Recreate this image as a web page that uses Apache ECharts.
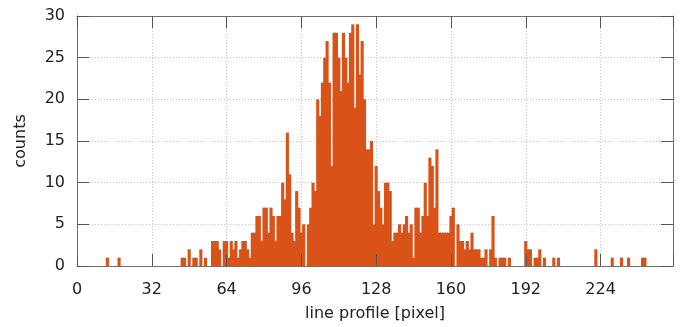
<!DOCTYPE html>
<html>
<head>
<meta charset="utf-8">
<script src="https://cdn.jsdelivr.net/npm/echarts@6/dist/echarts.min.js"></script>
<style>
  html, body { margin: 0; padding: 0; background: #fff; }
  #chart { width: 682px; height: 327px; }
</style>
</head>
<body>
<div id="chart"></div>
<script>
// histogram of the line profile, one count per pixel bin (0..255)
const counts = [
  0, 0, 0, 0, 0, 0, 0, 0, 0, 0, 0, 0, 0, 1, 0, 0,
  0, 0, 1, 0, 0, 0, 0, 0, 0, 0, 0, 0, 0, 0, 0, 0,
  0, 0, 0, 0, 0, 0, 0, 0, 0, 0, 0, 0, 0, 1, 1, 0,
  2, 0, 1, 1, 0, 2, 0, 1, 0, 0, 3, 3, 3, 2, 0, 3,
  3, 1, 3, 2, 3, 1, 2, 3, 3, 2, 1, 4, 4, 6, 6, 3,
  7, 7, 4, 7, 6, 3, 6, 6, 10, 8, 16, 11, 4, 3, 9, 7,
  4, 5, 0, 5, 7, 10, 9, 20, 18, 22, 25, 27, 22, 12, 28, 28,
  25, 21, 28, 25, 22, 28, 29, 19, 29, 23, 27, 20, 14, 14, 15, 5,
  12, 9, 7, 5, 10, 10, 9, 3, 4, 4, 5, 4, 5, 6, 4, 5,
  1, 7, 7, 4, 6, 10, 6, 13, 12, 7, 14, 4, 4, 4, 4, 4,
  6, 7, 0, 5, 3, 3, 2, 3, 2, 4, 2, 2, 2, 1, 1, 2,
  0, 2, 6, 1, 0, 1, 1, 1, 0, 1, 0, 0, 0, 0, 0, 0,
  3, 2, 2, 0, 1, 1, 2, 0, 1, 0, 0, 0, 1, 0, 1, 0,
  0, 0, 0, 0, 0, 0, 0, 0, 0, 0, 0, 0, 0, 0, 2, 0,
  0, 0, 0, 0, 0, 1, 0, 0, 0, 1, 0, 0, 1, 0, 0, 0,
  0, 0, 1, 1, 0, 0, 0, 0, 0, 0, 0, 0, 0, 0, 0, 0
];
const xTicks = [0, 32, 64, 96, 128, 160, 192, 224];
const yTicks = [0, 5, 10, 15, 20, 25, 30];
const xMax = 255;

const barColor = '#d95319';
const font = 'DejaVu Sans';

const chart = echarts.init(document.getElementById('chart'));

const frameLine = { show: true, onZero: false, lineStyle: { color: '#707070', width: 1 } };
const frameTick = { show: true, inside: true, length: 12, lineStyle: { color: '#555', width: 1 } };
const gridDots = { show: true, lineStyle: { color: '#c4c4c4', type: [1, 2], width: 1 } };

const xBase = { type: 'value', min: xTicks[0], max: xMax, interval: xTicks[1] - xTicks[0] };
const yBase = { type: 'value', min: yTicks[0], max: yTicks[yTicks.length - 1], interval: yTicks[1] - yTicks[0] };

// overlay axes only draw the frame and the inward ticks, above the bars
const frameAxis = (base, pos) => Object.assign({}, base, {
  position: pos, z: 10,
  axisLine: frameLine, axisTick: frameTick,
  axisLabel: { show: false }, splitLine: { show: false }
});

const option = {
  animation: false,
  grid: { left: 77, right: 9, top: 16, bottom: 61 },
  xAxis: [
    Object.assign({}, xBase, {
      position: 'bottom',
      name: 'line profile [pixel]',
      nameLocation: 'middle',
      nameGap: 40,
      nameTextStyle: { fontFamily: font, fontSize: 16, color: '#222' },
      axisLine: { show: false, onZero: false },
      axisTick: { show: false },
      axisLabel: { fontFamily: font, fontSize: 16, color: '#222', margin: 16, showMaxLabel: false },
      splitLine: gridDots
    }),
    frameAxis(xBase, 'bottom'),
    frameAxis(xBase, 'top')
  ],
  yAxis: [
    Object.assign({}, yBase, {
      position: 'left',
      name: 'counts',
      nameLocation: 'middle',
      nameGap: 48,
      nameTextStyle: { fontFamily: font, fontSize: 16, color: '#222' },
      axisLine: { show: false, onZero: false },
      axisTick: { show: false },
      axisLabel: { fontFamily: font, fontSize: 16, color: '#222', margin: 12 },
      splitLine: gridDots
    }),
    frameAxis(yBase, 'left'),
    frameAxis(yBase, 'right')
  ],
  series: [
    {
      type: 'custom',
      xAxisIndex: 0,
      yAxisIndex: 0,
      z: 5,
      data: counts.map((c, i) => [i, c]),
      renderItem: function (params, api) {
        const x = api.value(0);
        const y = api.value(1);
        if (!y) return null;
        const p0 = api.coord([x - 0.5, y]);
        const p1 = api.coord([x + 0.5, 0]);
        return {
          type: 'rect',
          shape: { x: p0[0] - 0.4, y: p0[1], width: p1[0] - p0[0] + 0.8, height: p1[1] - p0[1] },
          style: { fill: barColor }
        };
      }
    }
  ]
};

chart.setOption(option);
</script>
</body>
</html>
